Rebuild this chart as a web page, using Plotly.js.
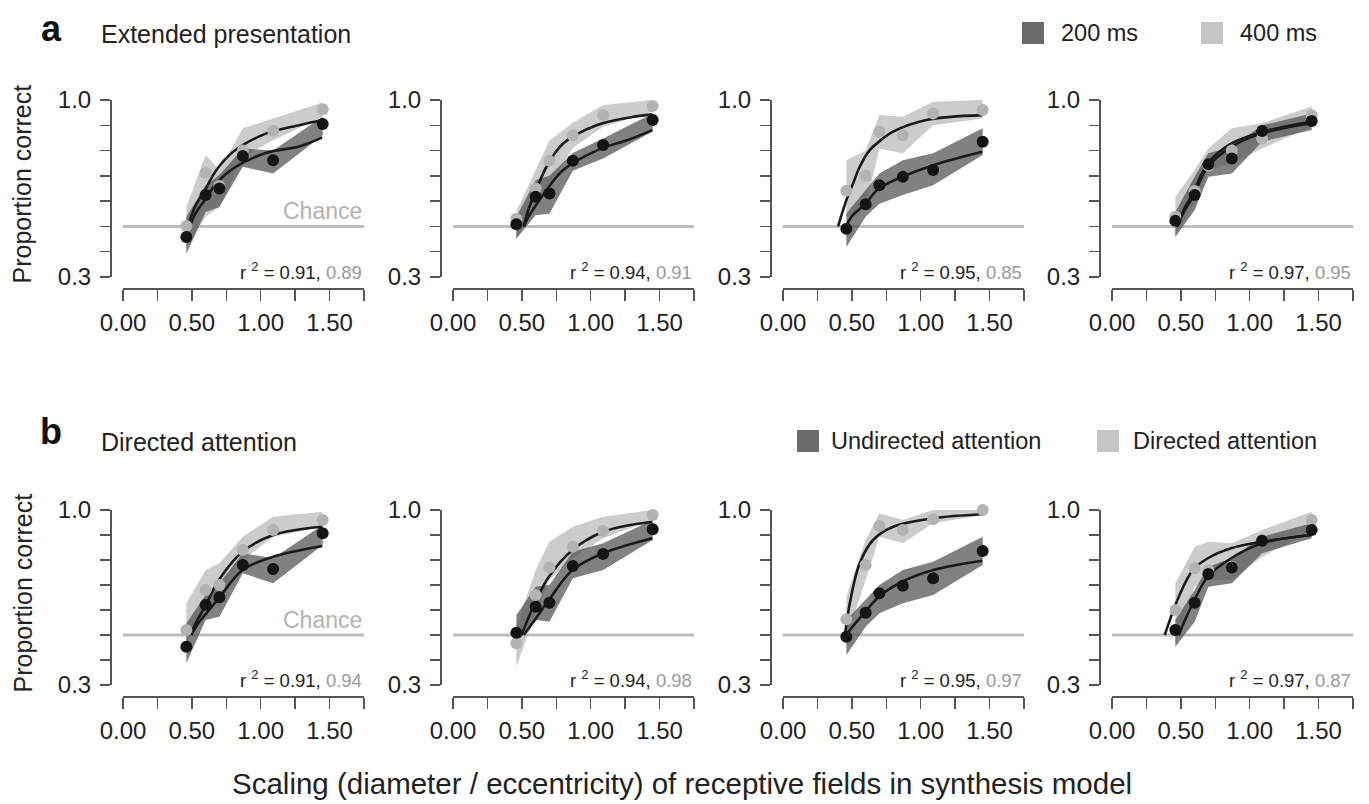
<!DOCTYPE html>
<html>
<head>
<meta charset="utf-8">
<script src="https://cdn.plot.ly/plotly-3.0.1.min.js"></script>
<style>html,body{margin:0;padding:0;background:#fff;}#chart{width:1369px;height:804px;}</style>
</head>
<body>
<div id="chart"></div>
<script>
// ---------- data ----------
const SCALES = [0.46, 0.60, 0.70, 0.87, 1.09, 1.45];
const CHANCE = 0.5;
const X_RANGE = [0, 1.75];
const X_TICKS = [0, 0.5, 1.0, 1.5];
const X_TICK_TEXT = ["0.00", "0.50", "1.00", "1.50"];
const X_MINOR = [0.25, 0.75, 1.25, 1.75];
const Y_RANGE = [0.3, 1.0];
const Y_TICKS = [0.3, 1.0];
const Y_TICK_TEXT = ["0.3", "1.0"];
const Y_MINOR = [0.4, 0.5, 0.6, 0.7, 0.8, 0.9];

// Row a: extended presentation (dark = 200 ms, light = 400 ms)
const a1DarkMean = [0.458, 0.624, 0.650, 0.779, 0.762, 0.905];
const a1DarkLo   = [0.392, 0.557, 0.577, 0.736, 0.709, 0.861];
const a1DarkHi   = [0.538, 0.663, 0.703, 0.808, 0.800, 0.934];
const a1LightMean= [0.502, 0.712, 0.660, 0.800, 0.878, 0.963];
const a1LightLo  = [0.419, 0.538, 0.577, 0.775, 0.841, 0.934];
const a1LightHi  = [0.577, 0.782, 0.723, 0.888, 0.927, 0.990];
const a1DarkFitX = [0.485, 0.53, 0.594, 0.679, 0.80, 1.042, 1.285, 1.447];
const a1DarkFitY = [0.50, 0.555, 0.604, 0.670, 0.729, 0.791, 0.817, 0.852];
const a1LightFitX= [0.473, 0.52, 0.594, 0.679, 0.80, 1.042, 1.285, 1.447];
const a1LightFitY= [0.50, 0.575, 0.643, 0.723, 0.795, 0.868, 0.901, 0.921];

const a2DarkMean = [0.509, 0.617, 0.630, 0.760, 0.822, 0.921];
const a2DarkLo   = [0.452, 0.544, 0.550, 0.720, 0.769, 0.875];
const a2DarkHi   = [0.538, 0.683, 0.700, 0.790, 0.848, 0.947];
const a2LightMean= [0.530, 0.650, 0.760, 0.860, 0.940, 0.976];
const a2LightLo  = [0.450, 0.577, 0.660, 0.810, 0.894, 0.954];
const a2LightHi  = [0.560, 0.723, 0.840, 0.910, 0.980, 1.000];
const a2DarkFitX = [0.514, 0.55, 0.594, 0.679, 0.80, 1.042, 1.285, 1.447];
const a2DarkFitY = [0.50, 0.54, 0.577, 0.643, 0.723, 0.800, 0.845, 0.881];
const a2LightFitX= [0.514, 0.55, 0.594, 0.679, 0.80, 1.042, 1.285, 1.447];
const a2LightFitY= [0.50, 0.57, 0.630, 0.736, 0.828, 0.900, 0.931, 0.943];

const a3DarkMean = [0.491, 0.588, 0.663, 0.696, 0.723, 0.835];
const a3DarkLo   = [0.419, 0.538, 0.590, 0.624, 0.663, 0.782];
const a3DarkHi   = [0.551, 0.643, 0.709, 0.762, 0.789, 0.888];
const a3LightMean= [0.641, 0.700, 0.874, 0.861, 0.947, 0.960];
const a3LightLo  = [0.538, 0.577, 0.808, 0.789, 0.900, 0.927];
const a3LightHi  = [0.762, 0.800, 0.941, 0.934, 0.993, 1.000];
const a3DarkFitX = [0.448, 0.50, 0.589, 0.696, 0.865, 1.091, 1.447];
const a3DarkFitY = [0.49, 0.54, 0.584, 0.650, 0.696, 0.742, 0.795];
const a3LightFitX= [0.40, 0.46, 0.509, 0.557, 0.63, 0.696, 0.80, 1.042, 1.447];
const a3LightFitY= [0.50, 0.604, 0.670, 0.736, 0.802, 0.835, 0.875, 0.921, 0.940];

const a4DarkMean = [0.522, 0.624, 0.746, 0.769, 0.877, 0.917];
const a4DarkLo   = [0.458, 0.564, 0.696, 0.709, 0.835, 0.881];
const a4DarkHi   = [0.557, 0.696, 0.789, 0.815, 0.900, 0.947];
const a4LightMean= [0.538, 0.640, 0.740, 0.800, 0.848, 0.940];
const a4LightLo  = [0.465, 0.590, 0.723, 0.749, 0.808, 0.894];
const a4LightHi  = [0.617, 0.723, 0.808, 0.888, 0.908, 0.974];
const a4DarkFitX = [0.473, 0.52, 0.587, 0.696, 0.868, 1.091, 1.447];
const a4DarkFitY = [0.50, 0.556, 0.617, 0.736, 0.815, 0.868, 0.908];
const a4LightFitX= [0.473, 0.52, 0.587, 0.696, 0.868, 1.091, 1.447];
const a4LightFitY= [0.50, 0.565, 0.630, 0.749, 0.828, 0.874, 0.914];

// Row b: directed attention (dark = undirected, light = directed)
const b1DarkMean = [0.453, 0.620, 0.651, 0.780, 0.764, 0.907];
const b1DarkLo   = [0.387, 0.560, 0.573, 0.747, 0.707, 0.860];
const b1DarkHi   = [0.547, 0.660, 0.707, 0.827, 0.807, 0.940];
const b1LightMean= [0.520, 0.680, 0.700, 0.840, 0.920, 0.960];
const b1LightLo  = [0.467, 0.600, 0.627, 0.800, 0.893, 0.933];
const b1LightHi  = [0.627, 0.760, 0.787, 0.893, 0.973, 0.993];
const b1DarkFitX = [0.497, 0.55, 0.606, 0.696, 0.868, 1.091, 1.447];
const b1DarkFitY = [0.50, 0.55, 0.587, 0.647, 0.760, 0.813, 0.856];
const b1LightFitX= [0.485, 0.54, 0.594, 0.696, 0.868, 1.091, 1.447];
const b1LightFitY= [0.50, 0.56, 0.613, 0.720, 0.833, 0.900, 0.933];

const b2DarkMean = [0.509, 0.613, 0.629, 0.776, 0.824, 0.923];
const b2DarkLo   = [0.467, 0.560, 0.553, 0.727, 0.760, 0.880];
const b2DarkHi   = [0.580, 0.693, 0.700, 0.833, 0.867, 0.960];
const b2LightMean= [0.467, 0.660, 0.770, 0.853, 0.916, 0.980];
const b2LightLo  = [0.373, 0.587, 0.720, 0.807, 0.887, 0.960];
const b2LightHi  = [0.533, 0.760, 0.873, 0.933, 0.973, 1.000];
const b2DarkFitX = [0.514, 0.594, 0.696, 0.868, 1.091, 1.447];
const b2DarkFitY = [0.50, 0.560, 0.640, 0.760, 0.827, 0.887];
const b2LightFitX= [0.497, 0.594, 0.696, 0.868, 1.091, 1.447];
const b2LightFitY= [0.50, 0.627, 0.733, 0.840, 0.913, 0.953];

const b3DarkMean = [0.493, 0.589, 0.667, 0.697, 0.727, 0.836];
const b3DarkLo   = [0.420, 0.533, 0.587, 0.627, 0.660, 0.780];
const b3DarkHi   = [0.560, 0.640, 0.700, 0.760, 0.793, 0.893];
const b3LightMean= [0.563, 0.780, 0.936, 0.920, 0.963, 1.000];
const b3LightLo  = [0.487, 0.720, 0.893, 0.867, 0.947, 0.980];
const b3LightHi  = [0.653, 0.880, 0.987, 0.960, 1.000, 1.000];
const b3DarkFitX = [0.444, 0.50, 0.589, 0.696, 0.865, 1.091, 1.447];
const b3DarkFitY = [0.487, 0.53, 0.587, 0.653, 0.713, 0.760, 0.797];
const b3LightFitX= [0.448, 0.485, 0.557, 0.654, 0.80, 1.091, 1.447];
const b3LightFitY= [0.493, 0.627, 0.787, 0.880, 0.933, 0.967, 0.983];

const b4DarkMean = [0.520, 0.629, 0.744, 0.770, 0.877, 0.920];
const b4DarkLo   = [0.453, 0.553, 0.693, 0.707, 0.827, 0.887];
const b4DarkHi   = [0.560, 0.680, 0.773, 0.807, 0.893, 0.947];
const b4LightMean= [0.600, 0.767, 0.760, 0.773, 0.880, 0.960];
const b4LightLo  = [0.467, 0.693, 0.720, 0.720, 0.813, 0.913];
const b4LightHi  = [0.707, 0.853, 0.873, 0.867, 0.920, 0.993];
const b4DarkFitX = [0.485, 0.53, 0.587, 0.696, 0.865, 1.091, 1.447];
const b4DarkFitY = [0.50, 0.56, 0.627, 0.733, 0.807, 0.867, 0.900];
const b4LightFitX= [0.383, 0.485, 0.587, 0.696, 0.865, 1.091, 1.447];
const b4LightFitY= [0.50, 0.653, 0.760, 0.807, 0.847, 0.873, 0.900];

const R2_DARK  = ["0.91", "0.94", "0.95", "0.97", "0.91", "0.94", "0.95", "0.97"];
const R2_LIGHT = ["0.89", "0.91", "0.85", "0.95", "0.94", "0.98", "0.97", "0.87"];

const ROW_LETTERS = ["a", "b"];
const ROW_TITLES = ["Extended presentation", "Directed attention"];
const LEGEND_A = ["200 ms", "400 ms"];
const LEGEND_B = ["Undirected attention", "Directed attention"];
const Y_TITLE = "Proportion correct";
const X_TITLE = "Scaling (diameter / eccentricity) of receptive fields in synthesis model";

// ---------- assembly ----------
const PANELS = [
  [a1DarkMean,a1DarkLo,a1DarkHi,a1LightMean,a1LightLo,a1LightHi,a1DarkFitX,a1DarkFitY,a1LightFitX,a1LightFitY],
  [a2DarkMean,a2DarkLo,a2DarkHi,a2LightMean,a2LightLo,a2LightHi,a2DarkFitX,a2DarkFitY,a2LightFitX,a2LightFitY],
  [a3DarkMean,a3DarkLo,a3DarkHi,a3LightMean,a3LightLo,a3LightHi,a3DarkFitX,a3DarkFitY,a3LightFitX,a3LightFitY],
  [a4DarkMean,a4DarkLo,a4DarkHi,a4LightMean,a4LightLo,a4LightHi,a4DarkFitX,a4DarkFitY,a4LightFitX,a4LightFitY],
  [b1DarkMean,b1DarkLo,b1DarkHi,b1LightMean,b1LightLo,b1LightHi,b1DarkFitX,b1DarkFitY,b1LightFitX,b1LightFitY],
  [b2DarkMean,b2DarkLo,b2DarkHi,b2LightMean,b2LightLo,b2LightHi,b2DarkFitX,b2DarkFitY,b2LightFitX,b2LightFitY],
  [b3DarkMean,b3DarkLo,b3DarkHi,b3LightMean,b3LightLo,b3LightHi,b3DarkFitX,b3DarkFitY,b3LightFitX,b3LightFitY],
  [b4DarkMean,b4DarkLo,b4DarkHi,b4LightMean,b4LightLo,b4LightHi,b4DarkFitX,b4DarkFitY,b4LightFitX,b4LightFitY]
];

const W = 1369, H = 804;
const PX = v => v / W;
const PY = v => 1 - v / H;

const FONT = "Liberation Sans, Arial, Helvetica, sans-serif";
const TXT = "#222222";
const AXC = "#555555";
const DARK_FILL = "rgba(80,80,80,0.72)";
const LIGHT_FILL = "rgba(185,185,185,0.72)";
const LEG_DARK = "#6b6b6b";
const LEG_LIGHT = "#c6c6c6";

// panel geometry in pixels
const COL_X0 = [123, 453, 783, 1112];
const PANEL_W = 241;
const YAXIS_GAP = 13;
const ROW_TOP = [100, 510];     // y=1.0
const ROW_BOT = [277, 685];     // y=0.3
const XAXIS_GAP = 11;

const traces = [];
const layout = {
  width: W, height: H,
  margin: {l: 0, r: 0, t: 0, b: 0},
  paper_bgcolor: "#fff", plot_bgcolor: "rgba(0,0,0,0)",
  showlegend: false,
  font: {family: FONT, color: TXT, size: 20},
  annotations: [], shapes: []
};

PANELS.forEach((p, i) => {
  const [dM, dLo, dHi, lM, lLo, lHi, dFx, dFy, lFx, lFy] = p;
  const k = i + 1;
  const row = Math.floor(i / 4), col = i % 4;
  const xa = "x" + k, ya = "y" + k;
  const rev = a => a.slice().reverse();
  const polyX = SCALES.concat(rev(SCALES));

  traces.push({x: X_RANGE, y: [CHANCE, CHANCE], xaxis: xa, yaxis: ya,
    mode: "lines", line: {color: "#bdbdbd", width: 3}, hoverinfo: "skip"});
  traces.push({x: polyX, y: lHi.concat(rev(lLo)), xaxis: xa, yaxis: ya, mode: "lines",
    fill: "toself", fillcolor: LIGHT_FILL, line: {width: 0}, hoverinfo: "skip"});
  traces.push({x: polyX, y: dHi.concat(rev(dLo)), xaxis: xa, yaxis: ya, mode: "lines",
    fill: "toself", fillcolor: DARK_FILL, line: {width: 0}, hoverinfo: "skip"});
  traces.push({x: lFx, y: lFy, xaxis: xa, yaxis: ya, mode: "lines",
    line: {color: "#1a1a1a", width: 2.6, shape: "spline", smoothing: 1}, hoverinfo: "skip"});
  traces.push({x: dFx, y: dFy, xaxis: xa, yaxis: ya, mode: "lines",
    line: {color: "#1a1a1a", width: 2.6, shape: "spline", smoothing: 1}, hoverinfo: "skip"});
  traces.push({x: SCALES, y: lM, xaxis: xa, yaxis: ya, mode: "markers",
    marker: {color: "#b3b3b3", size: 12}, hoverinfo: "skip", cliponaxis: false});
  traces.push({x: SCALES, y: dM, xaxis: xa, yaxis: ya, mode: "markers",
    marker: {color: "#141414", size: 12}, hoverinfo: "skip", cliponaxis: false});

  const x0 = COL_X0[col], x1 = x0 + PANEL_W;
  const yTop = ROW_TOP[row], yBot = ROW_BOT[row];
  layout["xaxis" + k] = {
    domain: [PX(x0), PX(x1)], range: X_RANGE,
    anchor: "free", position: PY(yBot + XAXIS_GAP),
    showgrid: false, zeroline: false, showline: true, linecolor: AXC, linewidth: 1.5,
    ticks: "outside", ticklen: 11, tickwidth: 1.5, tickcolor: AXC,
    tickmode: "array", tickvals: X_TICKS, ticktext: X_TICK_TEXT,
    minor: {tickmode: "array", tickvals: X_MINOR, ticks: "outside", ticklen: 11, tickwidth: 1.5, tickcolor: AXC, showgrid: false},
    tickfont: {family: FONT, size: 24, color: TXT}, ticklabelstandoff: 2, fixedrange: true
  };
  layout["yaxis" + k] = {
    domain: [PY(yBot), PY(yTop)], range: Y_RANGE,
    anchor: "free", position: PX(x0 - YAXIS_GAP),
    showgrid: false, zeroline: false, showline: true, linecolor: AXC, linewidth: 1.5,
    ticks: "outside", ticklen: 10, tickwidth: 1.5, tickcolor: AXC,
    tickmode: "array", tickvals: Y_TICKS, ticktext: Y_TICK_TEXT,
    minor: {tickmode: "array", tickvals: Y_MINOR, ticks: "outside", ticklen: 10, tickwidth: 1.5, tickcolor: AXC, showgrid: false},
    tickfont: {family: FONT, size: 24, color: TXT}, ticklabelstandoff: 4, fixedrange: true
  };

  // r^2 label
  layout.annotations.push({
    xref: xa, yref: ya, x: X_RANGE[1], y: Y_RANGE[0], xanchor: "right", yanchor: "middle",
    yshift: 6, showarrow: false, font: {family: FONT, size: 18.5, color: TXT},
    text: "r <sup>2</sup> = " + R2_DARK[i] + ", <span style='color:#9a9a9a'>" + R2_LIGHT[i] + "</span>"
  });
  if (col === 0) {
    layout.annotations.push({
      xref: xa, yref: ya, x: X_RANGE[1], y: CHANCE, xanchor: "right", yanchor: "bottom",
      yshift: 0, showarrow: false, font: {family: FONT, size: 23, color: "#b3b3b3"}, text: "Chance"
    });
    layout.annotations.push({
      xref: "paper", yref: "paper", x: PX(22), y: PY((yTop + yBot) / 2 - 4), textangle: -90,
      xanchor: "center", yanchor: "middle", showarrow: false,
      font: {family: FONT, size: 25, color: TXT}, text: Y_TITLE
    });
  }
});

// row letters & titles
const LETTER_Y = [29, 431];
const TITLE_Y = [34, 442];
ROW_LETTERS.forEach((t, r) => {
  layout.annotations.push({xref: "paper", yref: "paper", x: PX(51), y: PY(LETTER_Y[r]), xanchor: "center", yanchor: "middle",
    showarrow: false, font: {family: FONT, size: 36, color: "#111"}, text: "<b>" + t + "</b>"});
  layout.annotations.push({xref: "paper", yref: "paper", x: PX(99), y: PY(TITLE_Y[r]), xanchor: "left", yanchor: "middle",
    showarrow: false, font: {family: FONT, size: 25, color: TXT}, text: ROW_TITLES[r]});
});

// legends (keys)
function legendKey(sqX, txtX, cy, color, label) {
  layout.shapes.push({type: "rect", xref: "paper", yref: "paper",
    x0: PX(sqX), x1: PX(sqX + 22), y0: PY(cy + 11), y1: PY(cy - 11),
    fillcolor: color, line: {width: 0}});
  layout.annotations.push({xref: "paper", yref: "paper", x: PX(txtX), y: PY(cy), xanchor: "left", yanchor: "middle",
    showarrow: false, font: {family: FONT, size: 23.5, color: TXT}, text: label});
}
legendKey(1022, 1059, 33, LEG_DARK, LEGEND_A[0]);
legendKey(1201, 1238, 33, LEG_LIGHT, LEGEND_A[1]);
legendKey(797, 829, 441, LEG_DARK, LEGEND_B[0]);
legendKey(1097, 1131, 441, LEG_LIGHT, LEGEND_B[1]);

// shared x title
layout.annotations.push({xref: "paper", yref: "paper", x: PX(682), y: PY(783), xanchor: "center", yanchor: "middle",
  showarrow: false, font: {family: FONT, size: 29.5, color: TXT}, text: X_TITLE});

Plotly.newPlot("chart", traces, layout, {staticPlot: true, displayModeBar: false});
</script>
</body>
</html>
